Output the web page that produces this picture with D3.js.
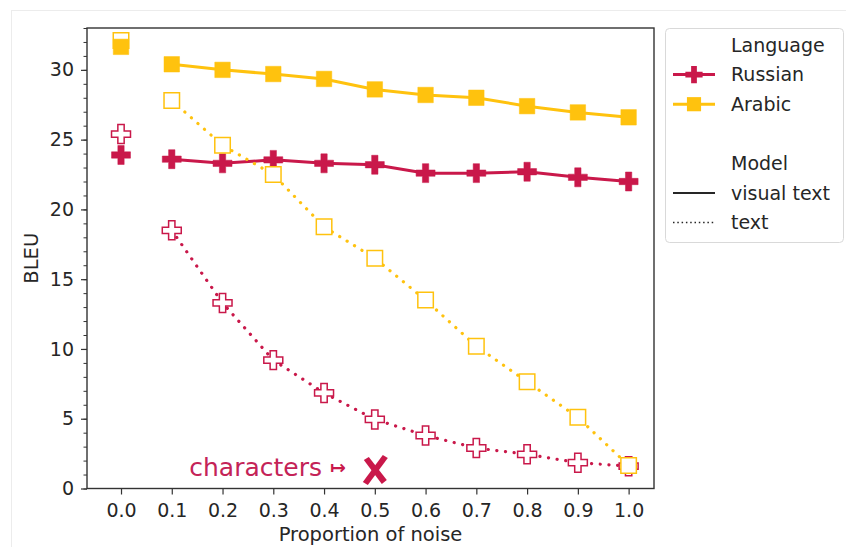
<!DOCTYPE html>
<html>
<head>
<meta charset="utf-8">
<script src="https://cdn.jsdelivr.net/npm/d3@7"></script>
<style>
  body { margin: 0; background: #fff; }
  text { font-family: "DejaVu Sans", sans-serif; fill: #262626; }
</style>
</head>
<body>
<div id="chart-area"></div>
<script>
var svgWidth = 846
var svgHeight = 547

// values
var noise = [0.0, 0.1, 0.2, 0.3, 0.4, 0.5, 0.6, 0.7, 0.8, 0.9, 1.0]
var russianVisual = [23.9, 23.6, 23.3, 23.55, 23.3, 23.2, 22.6, 22.6, 22.7, 22.3, 22.0]
var arabicVisual = [31.65, 30.4, 30.0, 29.7, 29.35, 28.6, 28.2, 28.0, 27.4, 26.95, 26.6]
var russianText = [25.4, 18.5, 13.3, 9.2, 6.85, 4.95, 3.8, 2.9, 2.45, 1.85, 1.6]
var arabicText = [32.1, 27.8, 24.6, 22.5, 18.75, 16.5, 13.5, 10.2, 7.65, 5.1, 1.65]
var yTicks = [0, 5, 10, 15, 20, 25, 30]
var xTicks = noise
var charMark = { x: 0.5, y: 1.33, label: "characters" }

var red = "#C9184A"
var gold = "#FFC20E"

var margin = { left: 87, top: 28, right: 654, bottom: 488.5 }

var svg = d3.select("#chart-area")
	.append("svg")
	.attr("width", svgWidth)
	.attr("height", svgHeight)

// faint figure frame
svg.append("rect")
	.attr("x", 11.5).attr("y", 10.5)
	.attr("width", 900).attr("height", 600)
	.attr("fill", "none")
	.attr("stroke", "#ececec")

var x = d3.scaleLinear()
	.domain([-0.067, 1.05])
	.range([margin.left, margin.right])

var y = d3.scaleLinear()
	.domain([0, 33])
	.range([margin.bottom, margin.top])

// minor y ticks
svg.append("g")
	.attr("transform", "translate(" + margin.left + ",0)")
	.call(d3.axisLeft(y).tickValues(d3.range(0, 34, 1)).tickSize(3.5).tickFormat(""))
	.call(function(g){ g.select(".domain").remove() })
	.selectAll("line").attr("stroke", "#333").attr("stroke-width", 1)

var yAxis = svg.append("g")
	.attr("transform", "translate(" + margin.left + ",0)")
	.call(d3.axisLeft(y).tickValues(yTicks).tickSize(6).tickPadding(7))

var xAxis = svg.append("g")
	.attr("transform", "translate(0," + margin.bottom + ")")
	.call(d3.axisBottom(x).tickValues(xTicks).tickSize(6).tickPadding(9).tickFormat(d3.format(".1f")))

;[yAxis, xAxis].forEach(function(g){
	g.select(".domain").remove()
	g.selectAll("line").attr("stroke", "#333").attr("stroke-width", 1.2)
	g.selectAll("text").attr("font-size", 19).attr("font-family", "DejaVu Sans").attr("fill", "#262626")
})

// frame
svg.append("rect")
	.attr("x", margin.left).attr("y", margin.top)
	.attr("width", margin.right - margin.left)
	.attr("height", margin.bottom - margin.top)
	.attr("fill", "none")
	.attr("stroke", "#333")
	.attr("stroke-width", 1.4)

svg.append("text")
	.attr("x", (margin.left + margin.right) / 2)
	.attr("y", 541)
	.attr("text-anchor", "middle")
	.attr("font-size", 19.5)
	.text("Proportion of noise")

svg.append("text")
	.attr("transform", "translate(38," + (margin.top + margin.bottom) / 2 + ") rotate(-90)")
	.attr("text-anchor", "middle")
	.attr("font-size", 19.5)
	.text("BLEU")

var plus = d3.symbol().type(d3.symbolCross).size(200)
var square = d3.symbol().type(d3.symbolSquare).size(240)

var series = [
	{ values: russianVisual, color: red, sym: plus, filled: true },
	{ values: russianText, color: red, sym: plus, filled: false },
	{ values: arabicText, color: gold, sym: square, filled: false },
	{ values: arabicVisual, color: gold, sym: square, filled: true }
]

var line = d3.line()
	.x(function(d){ return x(d.x) })
	.y(function(d){ return y(d.y) })

series.forEach(function(s){
	var pts = noise.map(function(n, i){ return { x: n, y: s.values[i] } })
	var g = svg.append("g")
	g.append("path")
		.datum(pts.slice(1))
		.attr("d", line)
		.attr("fill", "none")
		.attr("stroke", s.color)
		.attr("stroke-width", s.filled ? 3 : 3.2)
		.attr("stroke-linecap", "round")
		.attr("stroke-dasharray", s.filled ? null : "0.1 8.6")
	g.selectAll(".m").data(pts).enter()
		.append("path")
		.attr("transform", function(d){ return "translate(" + x(d.x) + "," + y(d.y) + ")" })
		.attr("d", s.sym)
		.attr("fill", s.filled ? s.color : "#fff")
		.attr("stroke", s.color)
		.attr("stroke-width", s.filled ? 0.5 : 1.5)
})

// characters annotation
var cx = x(charMark.x), cy = y(charMark.y)
var xg = svg.append("g").attr("transform", "translate(" + cx + "," + cy + ")")
xg.append("path")
	.attr("d", "M-11,-10 L-6,-13 L12,10 L7,14 Z")
	.attr("fill", red)
xg.append("path")
	.attr("d", "M8,-15 L13,-12 L-7,15 L-12,12 Z")
	.attr("fill", red)

svg.append("text")
	.attr("x", 322)
	.attr("y", 476)
	.attr("text-anchor", "end")
	.attr("font-family", "Open Sans")
	.attr("font-size", 25)
	.style("fill", "#C42357")
	.text(charMark.label)

svg.append("text")
	.attr("x", 330)
	.attr("y", 473.5)
	.attr("font-family", "DejaVu Sans")
	.attr("font-weight", "bold")
	.attr("font-size", 19)
	.style("fill", red)
	.text("\u21A6")

// legend
var legend = svg.append("g")
legend.append("rect")
	.attr("x", 665.5).attr("y", 28.5)
	.attr("width", 178).attr("height", 214)
	.attr("rx", 4)
	.attr("fill", "#fff")
	.attr("stroke", "#d9d9d9")

var legendItems = [
	{ label: "Language" },
	{ label: "Russian", color: red, sym: d3.symbol().type(d3.symbolCross).size(165) },
	{ label: "Arabic", color: gold, sym: d3.symbol().type(d3.symbolSquare).size(200) },
	{ label: "" },
	{ label: "Model" },
	{ label: "visual text", color: "#262626", dash: null },
	{ label: "text", color: "#262626", dash: "1.5 2.8" }
]

legendItems.forEach(function(d, i){
	var ly = 45 + i * 29.6
	if (d.color) {
		legend.append("line")
			.attr("x1", 673).attr("x2", 715)
			.attr("y1", ly).attr("y2", ly)
			.attr("stroke", d.color)
			.attr("stroke-width", d.sym ? 3 : (d.dash ? 1.5 : 2))
			.attr("stroke-dasharray", d.dash || null)
		if (d.sym) {
			legend.append("path")
				.attr("transform", "translate(694," + ly + ")")
				.attr("d", d.sym)
				.attr("fill", d.color)
		}
	}
	legend.append("text")
		.attr("x", 731)
		.attr("y", ly)
		.attr("dy", "0.36em")
		.attr("font-size", 19)
		.text(d.label)
})
</script>
</body>
</html>
